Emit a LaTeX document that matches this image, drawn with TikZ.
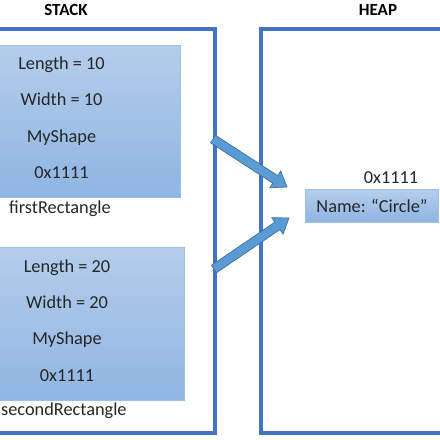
\documentclass[tikz,border=0pt]{standalone}
\usepackage{fontspec}
\setmainfont{Carlito}
\usetikzlibrary{calc}
\definecolor{frameblue}{HTML}{4472C4}
\definecolor{boxtop}{HTML}{B4CDEB}
\definecolor{boxbot}{HTML}{8FB5E2}
\definecolor{boxedge}{HTML}{9DBFE8}
\definecolor{arrfill}{HTML}{5B9BD5}
\definecolor{arredge}{HTML}{41719C}
\definecolor{txt}{HTML}{262626}
\tikzset{
  x=1pt,y=1pt,
  frame/.style={draw=frameblue,line width=3.6pt},
  membox/.style={draw=boxedge,line width=0.8pt,top color=boxtop,bottom color=boxbot,inner sep=0pt},
  lbl/.style={font=\fontsize{18.3}{22}\selectfont,text=txt,inner sep=0pt,anchor=base},
  title/.style={font=\fontsize{17}{20}\selectfont\bfseries,text=black,inner sep=0pt,anchor=base},
  blockarr/.style={fill=arrfill,draw=arredge,line width=0.7pt,line join=miter}
}
\newcommand{\blockarrow}[2]{%
  \coordinate (#1b) at ($(#2)!14pt!(#1)$);
  \path[blockarr] ($(#1)!4.5pt!90:(#2)$) -- ($(#1b)!4.5pt!90:(#2)$) -- ($(#1b)!10pt!90:(#2)$) -- (#2)
    -- ($(#1b)!10pt!-90:(#2)$) -- ($(#1b)!4.5pt!-90:(#2)$) -- ($(#1)!4.5pt!-90:(#2)$) -- cycle;}
\begin{document}
\begin{tikzpicture}
\useasboundingbox (0,0) rectangle (440,-440);
% frames
\draw[frame] (-10,-29) rectangle (215,-433);
\draw[frame] (261,-29) rectangle (450,-433);
\node[title] (stackT) at (66,-15) {STACK};
\node[title] (heapT) at (378,-15) {HEAP};
% stack box 1
\node[membox,anchor=north west,minimum width=184pt,minimum height=152pt] (box1) at (-4,-45) {};
\node[lbl] (l1) at (61.5,-69) {Length = 10};
\node[lbl] (w1) at (61.5,-105) {Width = 10};
\node[lbl] (m1) at (61.5,-142) {MyShape};
\node[lbl] (p1) at (61.5,-178) {0x1111};
\node[lbl,anchor=base west] (n1) at (9,-213) {firstRectangle};
% stack box 2
\node[membox,anchor=north west,minimum width=188pt,minimum height=153pt] (box2) at (-4,-247) {};
\node[lbl] (l2) at (67,-272) {Length = 20};
\node[lbl] (w2) at (67,-308) {Width = 20};
\node[lbl] (m2) at (67,-344) {MyShape};
\node[lbl] (p2) at (67,-381) {0x1111};
\node[lbl,anchor=base west] (n2) at (1,-415) {secondRectangle};
% heap object
\node[membox,anchor=north west,minimum width=133pt,minimum height=33pt] (obj) at (305,-189) {};
\node[lbl] (addr) at (391,-183) {0x1111};
\node[lbl] (name) at (372,-212) {Name: “Circle”};
% arrows
\coordinate (a1s) at (213,-139);
\coordinate (a1e) at (287,-187);
\coordinate (a2s) at (214,-269);
\coordinate (a2e) at (289,-218);
\blockarrow{a1s}{a1e}
\blockarrow{a2s}{a2e}
\end{tikzpicture}
\end{document}
